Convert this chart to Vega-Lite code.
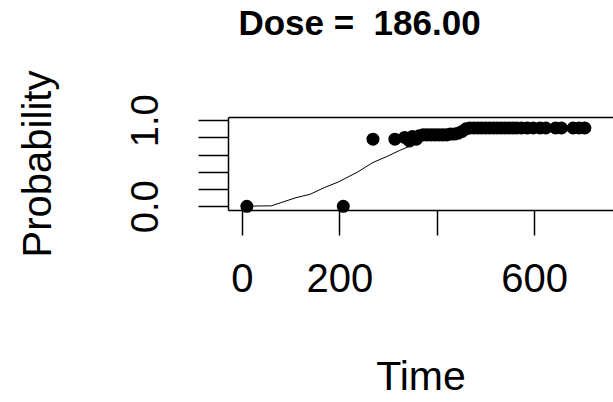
{
  "$schema": "https://vega.github.io/schema/vega-lite/v6.json",
  "autosize": {"type": "none"},
  "padding": {"left": 228, "top": 117, "right": 0, "bottom": 192},
  "width": 385,
  "height": 93,
  "background": "white",
  "config": {
    "view": {"stroke": null},
    "font": "Liberation Sans",
    "axis": {"grid": false, "domainColor": "black", "domainWidth": 1.5, "tickColor": "black", "tickWidth": 1.5, "labelColor": "black", "titleColor": "black", "labelFont": "Liberation Sans", "titleFont": "Liberation Sans", "titleFontWeight": "normal", "labelOverlap": false, "labelFlush": false}
  },
  "title": {"text": "Dose =\u00a0\u00a0186.00", "font": "Liberation Sans", "fontSize": 35, "fontWeight": "bold", "color": "black", "anchor": "middle", "frame": "group", "dx": -61, "offset": 28},
  "datasets": {
    "curve": [
      {"Time": 10, "Probability": 0.0},
      {"Time": 23, "Probability": 0.003},
      {"Time": 60, "Probability": 0.005},
      {"Time": 84, "Probability": 0.05},
      {"Time": 111, "Probability": 0.10},
      {"Time": 140, "Probability": 0.14},
      {"Time": 170, "Probability": 0.22},
      {"Time": 197, "Probability": 0.28},
      {"Time": 238, "Probability": 0.40},
      {"Time": 269, "Probability": 0.51},
      {"Time": 298, "Probability": 0.58},
      {"Time": 324, "Probability": 0.65},
      {"Time": 345, "Probability": 0.70},
      {"Time": 366, "Probability": 0.76},
      {"Time": 407, "Probability": 0.81},
      {"Time": 468, "Probability": 0.87},
      {"Time": 571, "Probability": 0.90},
      {"Time": 705, "Probability": 0.91}
    ],
    "obs": [
      {"Time": 10, "Probability": 0.0},
      {"Time": 208, "Probability": 0.0},
      {"Time": 269, "Probability": 0.78},
      {"Time": 314, "Probability": 0.78},
      {"Time": 334, "Probability": 0.80},
      {"Time": 344, "Probability": 0.76},
      {"Time": 350, "Probability": 0.81},
      {"Time": 358, "Probability": 0.78},
      {"Time": 364, "Probability": 0.82},
      {"Time": 372, "Probability": 0.83},
      {"Time": 380, "Probability": 0.83},
      {"Time": 388, "Probability": 0.83},
      {"Time": 396, "Probability": 0.83},
      {"Time": 404, "Probability": 0.83},
      {"Time": 412, "Probability": 0.83},
      {"Time": 420, "Probability": 0.83},
      {"Time": 428, "Probability": 0.84},
      {"Time": 436, "Probability": 0.84},
      {"Time": 444, "Probability": 0.85},
      {"Time": 452, "Probability": 0.87},
      {"Time": 460, "Probability": 0.90},
      {"Time": 468, "Probability": 0.91},
      {"Time": 476, "Probability": 0.91},
      {"Time": 484, "Probability": 0.91},
      {"Time": 492, "Probability": 0.91},
      {"Time": 500, "Probability": 0.91},
      {"Time": 508, "Probability": 0.91},
      {"Time": 516, "Probability": 0.91},
      {"Time": 524, "Probability": 0.91},
      {"Time": 532, "Probability": 0.91},
      {"Time": 540, "Probability": 0.91},
      {"Time": 548, "Probability": 0.91},
      {"Time": 556, "Probability": 0.91},
      {"Time": 564, "Probability": 0.91},
      {"Time": 574, "Probability": 0.91},
      {"Time": 586, "Probability": 0.91},
      {"Time": 598, "Probability": 0.91},
      {"Time": 612, "Probability": 0.91},
      {"Time": 624, "Probability": 0.91},
      {"Time": 644, "Probability": 0.91},
      {"Time": 656, "Probability": 0.91},
      {"Time": 680, "Probability": 0.91},
      {"Time": 692, "Probability": 0.91},
      {"Time": 704, "Probability": 0.91}
    ]
  },
  "layer": [
    {
      "data": {"name": "curve"},
      "mark": {"type": "line", "color": "black", "strokeWidth": 1},
      "encoding": {
        "x": {"field": "Time", "type": "quantitative", "scale": {"domain": [-28.7, 761.8], "nice": false, "zero": false},
              "axis": {"orient": "top", "labels": false, "ticks": false, "title": null, "domain": true}},
        "y": {"field": "Probability", "type": "quantitative", "scale": {"domain": [-0.043, 1.038], "nice": false, "zero": false},
              "axis": {"orient": "left", "values": [0, 0.2, 0.4, 0.6, 0.8, 1.0], "tickSize": 30, "labelAngle": -90, "labelFontSize": 38, "labelPadding": 33,
                       "labelExpr": "datum.value == 0 || datum.value == 1 ? format(datum.value, '.1f') : ''",
                       "title": "Probability", "titleFontSize": 40, "titlePadding": 69}}
      }
    },
    {
      "data": {"name": "obs"},
      "mark": {"type": "point", "filled": true, "color": "black", "opacity": 1, "size": 170},
      "encoding": {
        "x": {"field": "Time", "type": "quantitative",
              "axis": {"orient": "bottom", "values": [0, 200, 400, 600], "tickSize": 25, "labelFontSize": 40, "labelPadding": 24,
                       "labelExpr": "datum.value == 400 ? '' : datum.label",
                       "title": "Time", "titleFontSize": 41, "titlePadding": 58}},
        "y": {"field": "Probability", "type": "quantitative",
              "axis": {"orient": "left", "values": [0, 0.2, 0.4, 0.6, 0.8, 1.0], "tickSize": 30, "labelAngle": -90, "labelFontSize": 38, "labelPadding": 33,
                       "labelExpr": "datum.value == 0 || datum.value == 1 ? format(datum.value, '.1f') : ''",
                       "title": "Probability", "titleFontSize": 40, "titlePadding": 69}}
      }
    }
  ],
  "resolve": {"axis": {"x": "independent"}}
}
